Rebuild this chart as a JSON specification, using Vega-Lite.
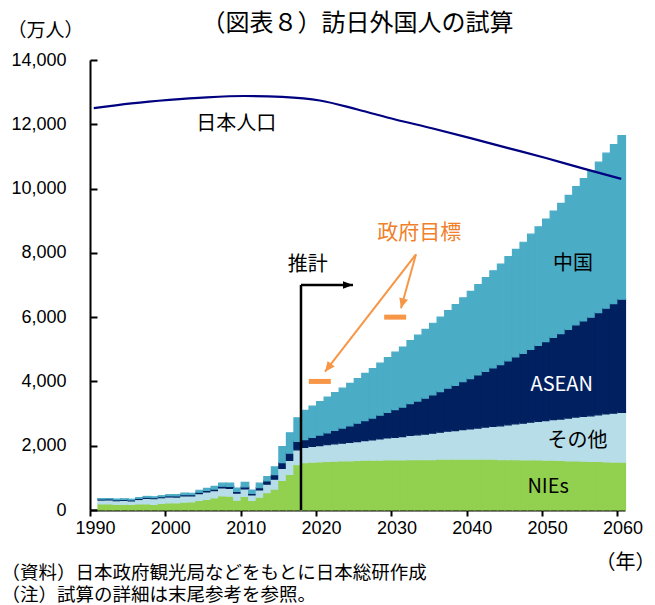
{
  "$schema": "https://vega.github.io/schema/vega-lite/v6.json",
  "width": 535,
  "height": 450,
  "autosize": "none",
  "padding": {"left": 90, "top": 60, "right": 30, "bottom": 95},
  "background": "white",
  "title": {
    "text": "（図表８）訪日外国人の試算",
    "font": "Noto Sans CJK JP",
    "fontSize": 24,
    "fontWeight": "normal",
    "color": "black",
    "anchor": "middle",
    "frame": "group",
    "baseline": "bottom",
    "offset": -39
  },
  "config": {
    "view": {"stroke": null},
    "axis": {
      "grid": false,
      "domainColor": "black",
      "domainWidth": 2,
      "tickColor": "black",
      "tickWidth": 2,
      "labelColor": "black",
      "labelFont": "Liberation Sans",
      "labelFontSize": 18,
      "labelOverlap": false,
      "labelFlush": false,
      "titleFont": "Noto Sans CJK JP",
      "titleFontWeight": "normal",
      "titleColor": "black"
    }
  },
  "datasets": {
    "regionOrder": [
      {"region": "NIEs", "rank": 1},
      {"region": "その他", "rank": 2},
      {"region": "ASEAN", "rank": 3},
      {"region": "中国", "rank": 4}
    ],
    "visitors": [
      {"year": 1991, "NIEs": 186, "その他": 124, "ASEAN": 30, "中国": 13},
      {"year": 1992, "NIEs": 186, "その他": 126, "ASEAN": 30, "中国": 16},
      {"year": 1993, "NIEs": 178, "その他": 112, "ASEAN": 30, "中国": 21},
      {"year": 1994, "NIEs": 174, "その他": 124, "ASEAN": 30, "中国": 19},
      {"year": 1995, "NIEs": 176, "その他": 107, "ASEAN": 30, "中国": 22},
      {"year": 1996, "NIEs": 186, "その他": 142, "ASEAN": 32, "中国": 24},
      {"year": 1997, "NIEs": 186, "その他": 177, "ASEAN": 33, "中国": 26},
      {"year": 1998, "NIEs": 178, "その他": 174, "ASEAN": 32, "中国": 27},
      {"year": 1999, "NIEs": 208, "その他": 174, "ASEAN": 33, "中国": 29},
      {"year": 2000, "NIEs": 221, "その他": 185, "ASEAN": 35, "中国": 35},
      {"year": 2001, "NIEs": 220, "その他": 182, "ASEAN": 36, "中国": 39},
      {"year": 2002, "NIEs": 244, "その他": 197, "ASEAN": 38, "中国": 45},
      {"year": 2003, "NIEs": 251, "その他": 187, "ASEAN": 38, "中国": 45},
      {"year": 2004, "NIEs": 297, "その他": 213, "ASEAN": 42, "中国": 62},
      {"year": 2005, "NIEs": 332, "その他": 231, "ASEAN": 45, "中国": 65},
      {"year": 2006, "NIEs": 378, "その他": 224, "ASEAN": 50, "中国": 81},
      {"year": 2007, "NIEs": 442, "その他": 244, "ASEAN": 55, "中国": 94},
      {"year": 2008, "NIEs": 432, "その他": 243, "ASEAN": 60, "中国": 100},
      {"year": 2009, "NIEs": 306, "その他": 220, "ASEAN": 52, "中国": 101},
      {"year": 2010, "NIEs": 422, "その他": 233, "ASEAN": 65, "中国": 141},
      {"year": 2011, "NIEs": 301, "その他": 167, "ASEAN": 50, "中国": 104},
      {"year": 2012, "NIEs": 399, "その他": 224, "ASEAN": 70, "中国": 143},
      {"year": 2013, "NIEs": 542, "その他": 263, "ASEAN": 100, "中国": 131},
      {"year": 2014, "NIEs": 652, "その他": 308, "ASEAN": 140, "中国": 241},
      {"year": 2015, "NIEs": 920, "その他": 375, "ASEAN": 180, "中国": 499},
      {"year": 2016, "NIEs": 1110, "その他": 437, "ASEAN": 220, "中国": 637},
      {"year": 2017, "NIEs": 1408, "その他": 465, "ASEAN": 260, "中国": 736},
      {"year": 2018, "NIEs": 1470, "その他": 480, "ASEAN": 240, "中国": 910},
      {"year": 2019, "NIEs": 1490, "その他": 490, "ASEAN": 280, "中国": 970},
      {"year": 2020, "NIEs": 1500, "その他": 500, "ASEAN": 330, "中国": 1040},
      {"year": 2021, "NIEs": 1510, "その他": 520, "ASEAN": 370, "中国": 1110},
      {"year": 2022, "NIEs": 1520, "その他": 540, "ASEAN": 420, "中国": 1170},
      {"year": 2023, "NIEs": 1530, "その他": 550, "ASEAN": 470, "中国": 1240},
      {"year": 2024, "NIEs": 1530, "その他": 570, "ASEAN": 520, "中国": 1320},
      {"year": 2025, "NIEs": 1540, "その他": 590, "ASEAN": 570, "中国": 1390},
      {"year": 2026, "NIEs": 1550, "その他": 610, "ASEAN": 620, "中国": 1470},
      {"year": 2027, "NIEs": 1550, "その他": 630, "ASEAN": 680, "中国": 1540},
      {"year": 2028, "NIEs": 1550, "その他": 660, "ASEAN": 740, "中国": 1620},
      {"year": 2029, "NIEs": 1560, "その他": 680, "ASEAN": 800, "中国": 1700},
      {"year": 2030, "NIEs": 1560, "その他": 700, "ASEAN": 860, "中国": 1790},
      {"year": 2031, "NIEs": 1560, "その他": 720, "ASEAN": 920, "中国": 1870},
      {"year": 2032, "NIEs": 1570, "その他": 750, "ASEAN": 990, "中国": 1960},
      {"year": 2033, "NIEs": 1570, "その他": 770, "ASEAN": 1050, "中国": 2050},
      {"year": 2034, "NIEs": 1570, "その他": 790, "ASEAN": 1120, "中国": 2140},
      {"year": 2035, "NIEs": 1570, "その他": 820, "ASEAN": 1190, "中国": 2230},
      {"year": 2036, "NIEs": 1580, "その他": 840, "ASEAN": 1260, "中国": 2320},
      {"year": 2037, "NIEs": 1580, "その他": 870, "ASEAN": 1340, "中国": 2410},
      {"year": 2038, "NIEs": 1580, "その他": 890, "ASEAN": 1410, "中国": 2510},
      {"year": 2039, "NIEs": 1580, "その他": 920, "ASEAN": 1490, "中国": 2610},
      {"year": 2040, "NIEs": 1580, "その他": 940, "ASEAN": 1570, "中国": 2710},
      {"year": 2041, "NIEs": 1580, "その他": 970, "ASEAN": 1650, "中国": 2810},
      {"year": 2042, "NIEs": 1580, "その他": 1000, "ASEAN": 1730, "中国": 2920},
      {"year": 2043, "NIEs": 1580, "その他": 1020, "ASEAN": 1820, "中国": 3020},
      {"year": 2044, "NIEs": 1570, "その他": 1050, "ASEAN": 1900, "中国": 3130},
      {"year": 2045, "NIEs": 1570, "その他": 1080, "ASEAN": 1990, "中国": 3240},
      {"year": 2046, "NIEs": 1570, "その他": 1110, "ASEAN": 2080, "中国": 3350},
      {"year": 2047, "NIEs": 1560, "その他": 1140, "ASEAN": 2170, "中国": 3460},
      {"year": 2048, "NIEs": 1560, "その他": 1170, "ASEAN": 2270, "中国": 3580},
      {"year": 2049, "NIEs": 1560, "その他": 1200, "ASEAN": 2360, "中国": 3690},
      {"year": 2050, "NIEs": 1550, "その他": 1230, "ASEAN": 2460, "中国": 3810},
      {"year": 2051, "NIEs": 1550, "その他": 1260, "ASEAN": 2560, "中国": 3930},
      {"year": 2052, "NIEs": 1540, "その他": 1290, "ASEAN": 2660, "中国": 4050},
      {"year": 2053, "NIEs": 1530, "その他": 1330, "ASEAN": 2760, "中国": 4170},
      {"year": 2054, "NIEs": 1530, "その他": 1360, "ASEAN": 2870, "中国": 4300},
      {"year": 2055, "NIEs": 1520, "その他": 1390, "ASEAN": 2970, "中国": 4430},
      {"year": 2056, "NIEs": 1510, "その他": 1420, "ASEAN": 3070, "中国": 4550},
      {"year": 2057, "NIEs": 1510, "その他": 1450, "ASEAN": 3180, "中国": 4680},
      {"year": 2058, "NIEs": 1500, "その他": 1490, "ASEAN": 3290, "中国": 4820},
      {"year": 2059, "NIEs": 1490, "その他": 1520, "ASEAN": 3410, "中国": 4950},
      {"year": 2060, "NIEs": 1490, "その他": 1550, "ASEAN": 3520, "中国": 5090}
    ],
    "population": [
      {"year": 1990, "pop": 12500},
      {"year": 1995, "pop": 12650},
      {"year": 2000, "pop": 12760},
      {"year": 2005, "pop": 12840},
      {"year": 2010, "pop": 12880},
      {"year": 2015, "pop": 12850},
      {"year": 2020, "pop": 12740},
      {"year": 2025, "pop": 12460},
      {"year": 2030, "pop": 12150},
      {"year": 2035, "pop": 11870},
      {"year": 2040, "pop": 11570},
      {"year": 2045, "pop": 11260},
      {"year": 2050, "pop": 10950},
      {"year": 2055, "pop": 10620},
      {"year": 2060, "pop": 10300}
    ],
    "targets": [
      {"year": 2020, "target": 4000},
      {"year": 2030, "target": 6000}
    ],
    "estimateMarker": [
      {"x": 2018, "y": 0, "x2": 2018, "y2": 7000},
      {"x": 2018, "y": 7000, "x2": 2024.9, "y2": 7000}
    ],
    "targetArrows": [
      {"x": 2033.26, "y": 7955, "x2": 2021.19, "y2": 4302},
      {"x": 2033.26, "y": 7955, "x2": 2031.27, "y2": 6275}
    ],
    "labels": [
      {"label": "日本人口", "year": 2009.4, "value": 12010},
      {"label": "中国", "year": 2054.1, "value": 7655},
      {"label": "ASEAN", "year": 2052.6, "value": 3875},
      {"label": "その他", "year": 2054.7, "value": 2150},
      {"label": "NIEs", "year": 2050.8, "value": 725},
      {"label": "推計", "year": 2018.9, "value": 7610},
      {"label": "政府目標", "year": 2033.7, "value": 8630}
    ]
  },
  "layer": [
    {
      "data": {"name": "visitors"},
      "transform": [
        {"fold": ["NIEs", "その他", "ASEAN", "中国"], "as": ["region", "visitors"]},
        {"lookup": "region", "from": {"data": {"name": "regionOrder"}, "key": "region", "fields": ["rank"]}}
      ],
      "mark": {"type": "bar", "binSpacing": 0, "strokeWidth": 1.2},
      "encoding": {
        "x": {
          "field": "year",
          "type": "quantitative",
          "bin": {"step": 1, "extent": [1990, 2061]},
          "scale": {"domain": [1990, 2061], "nice": false, "zero": false},
          "axis": {
            "orient": "bottom",
            "values": [1990, 2000, 2010, 2020, 2030, 2040, 2050, 2060],
            "format": "d",
            "tickSize": 6,
            "labelPadding": 3,
            "labelOffset": 5,
            "title": "（年）",
            "titleFontSize": 20,
            "titleX": 535,
            "titleY": 52,
            "titleAlign": "center",
            "titleBaseline": "middle"
          }
        },
        "y": {
          "aggregate": "sum",
          "field": "visitors",
          "type": "quantitative",
          "title": "（万人）",
          "scale": {"domain": [0, 14000], "nice": false},
          "axis": {
            "values": [0, 2000, 4000, 6000, 8000, 10000, 12000, 14000],
            "format": ",d",
            "tickSize": -7,
            "labelPadding": 31,
            "titleAngle": 0,
            "titleFontSize": 19,
            "titleX": -45,
            "titleY": -30,
            "titleAlign": "center",
            "titleBaseline": "middle"
          }
        },
        "order": {"field": "rank", "type": "quantitative", "sort": "ascending"},
        "color": {
          "field": "region",
          "type": "nominal",
          "scale": {
            "domain": ["NIEs", "その他", "ASEAN", "中国"],
            "range": ["#92D050", "#B7DEE8", "#002060", "#4BACC6"]
          },
          "legend": null
        },
        "stroke": {
          "field": "region",
          "type": "nominal",
          "scale": {
            "domain": ["NIEs", "その他", "ASEAN", "中国"],
            "range": ["#92D050", "#B7DEE8", "#002060", "#4BACC6"]
          },
          "legend": null
        }
      }
    },
    {
      "data": {"name": "population"},
      "mark": {"type": "line", "color": "#000080", "strokeWidth": 2.2, "interpolate": "monotone"},
      "encoding": {
        "x": {
          "field": "year",
          "type": "quantitative",
          "bin": {"step": 1, "extent": [1990, 2061]},
          "bandPosition": 0.5,
          "axis": {
            "orient": "bottom",
            "labels": false,
            "ticks": false,
            "domain": false,
            "title": ["（資料）日本政府観光局などをもとに日本総研作成", "（注）試算の詳細は末尾参考を参照。"],
            "titleFontSize": 18.5,
            "titleLineHeight": 22,
            "titleX": -89,
            "titleY": 53,
            "titleAlign": "left",
            "titleBaseline": "top"
          }
        },
        "y": {"field": "pop", "type": "quantitative", "title": "（万人）"}
      }
    },
    {
      "data": {"name": "targets"},
      "mark": {"type": "tick", "orient": "horizontal", "color": "#F79646", "size": 22, "thickness": 5, "opacity": 1},
      "encoding": {
        "x": {"field": "year", "type": "quantitative", "bin": {"step": 1, "extent": [1990, 2061]}, "bandPosition": 0.5, "axis": null},
        "y": {"field": "target", "type": "quantitative", "title": "（万人）"}
      }
    },
    {
      "data": {"name": "estimateMarker"},
      "mark": {"type": "rule", "color": "black", "strokeWidth": 2.5},
      "encoding": {
        "x": {"field": "x", "type": "quantitative", "axis": null},
        "x2": {"field": "x2"},
        "y": {"field": "y", "type": "quantitative", "title": "（万人）"},
        "y2": {"field": "y2"}
      }
    },
    {
      "data": {"name": "estimateMarker"},
      "transform": [{"filter": "datum.x2 > datum.x"}],
      "mark": {"type": "point", "shape": "M0,0 L0.75,2 L-0.75,2 Z", "filled": true, "size": 100, "angle": 90, "color": "black", "opacity": 1},
      "encoding": {
        "x": {"field": "x2", "type": "quantitative", "axis": null},
        "y": {"field": "y2", "type": "quantitative", "title": "（万人）"}
      }
    },
    {
      "data": {"name": "targetArrows"},
      "mark": {"type": "rule", "color": "#F79646", "strokeWidth": 2},
      "encoding": {
        "x": {"field": "x", "type": "quantitative", "axis": null},
        "x2": {"field": "x2"},
        "y": {"field": "y", "type": "quantitative", "title": "（万人）"},
        "y2": {"field": "y2"}
      }
    },
    {
      "data": {"name": "targetArrows"},
      "transform": [{"filter": "datum.x2 < 2025"}],
      "mark": {"type": "point", "shape": "M0,0 L0.9,2 L-0.9,2 Z", "filled": true, "size": 100, "angle": 217.8, "color": "#F79646", "opacity": 1},
      "encoding": {
        "x": {"field": "x2", "type": "quantitative", "axis": null},
        "y": {"field": "y2", "type": "quantitative", "title": "（万人）"}
      }
    },
    {
      "data": {"name": "targetArrows"},
      "transform": [{"filter": "datum.x2 >= 2025"}],
      "mark": {"type": "point", "shape": "M0,0 L0.9,2 L-0.9,2 Z", "filled": true, "size": 100, "angle": 195.5, "color": "#F79646", "opacity": 1},
      "encoding": {
        "x": {"field": "x2", "type": "quantitative", "axis": null},
        "y": {"field": "y2", "type": "quantitative", "title": "（万人）"}
      }
    },
    {
      "data": {"name": "labels"},
      "transform": [{"filter": "datum.label !== 'ASEAN' && datum.label !== '政府目標'"}],
      "mark": {"type": "text", "font": "Noto Sans CJK JP", "fontSize": 20, "color": "black", "align": "center", "baseline": "middle"},
      "encoding": {
        "x": {"field": "year", "type": "quantitative", "axis": null},
        "y": {"field": "value", "type": "quantitative", "title": "（万人）"},
        "text": {"field": "label"}
      }
    },
    {
      "data": {"name": "labels"},
      "transform": [{"filter": "datum.label === 'ASEAN'"}],
      "mark": {"type": "text", "font": "Noto Sans CJK JP", "fontSize": 20, "color": "white", "align": "center", "baseline": "middle"},
      "encoding": {
        "x": {"field": "year", "type": "quantitative", "axis": null},
        "y": {"field": "value", "type": "quantitative", "title": "（万人）"},
        "text": {"field": "label"}
      }
    },
    {
      "data": {"name": "labels"},
      "transform": [{"filter": "datum.label === '政府目標'"}],
      "mark": {"type": "text", "font": "Noto Sans CJK JP", "fontSize": 21, "color": "#F0802A", "align": "center", "baseline": "middle"},
      "encoding": {
        "x": {"field": "year", "type": "quantitative", "axis": null},
        "y": {"field": "value", "type": "quantitative", "title": "（万人）"},
        "text": {"field": "label"}
      }
    }
  ],
  "resolve": {"axis": {"x": "independent"}}
}
